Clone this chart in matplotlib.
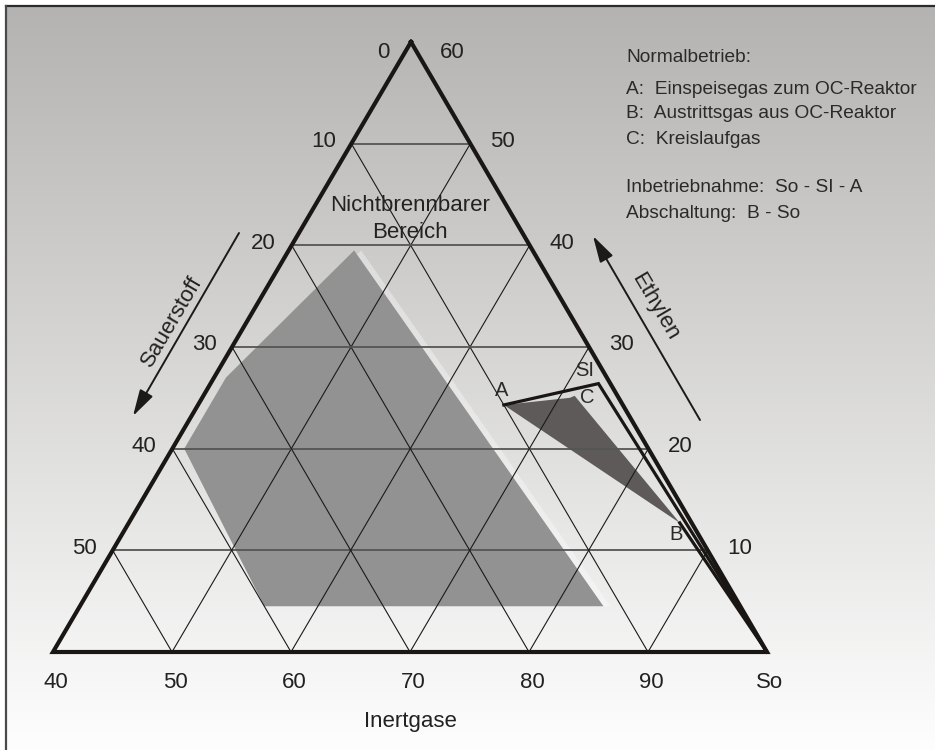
import numpy as np
import matplotlib.pyplot as plt
from matplotlib.patches import Polygon

plt.rcParams['font.family'] = ['Liberation Sans', 'DejaVu Sans']

# --- data (ternary: Sauerstoff O, Ethylen E, Inertgase I = 100 - O - E) ---
sauerstoff_ticks = [0, 10, 20, 30, 40, 50]
ethylen_ticks = [60, 50, 40, 30, 20, 10]
inert_ticks = [40, 50, 60, 70, 80, 90, 100]
inert_labels = ['40', '50', '60', '70', '80', '90', 'So']

# flammable region (Explosionsbereich)
flamm_O = [15, 32, 39, 40, 11.5]
flamm_E = [39.5, 27, 20, 4.5, 4.5]

# normal operation region A - C - B
betrieb_O = [10, 4.1, 3.6, 1.0]
betrieb_E = [24.3, 25.0, 25.2, 12.7]

# named points
pt_names = ['A', 'B', 'C', 'SI', 'So']
pt_O = [10, 1.0, 3.6, 1.0, 0]
pt_E = [24.3, 12.7, 25.2, 26.4, 0]
anfahren = ['So', 'SI', 'A']
abschalten = ['B', 'So']

legend_lines = ['Normalbetrieb:',
                'A:  Einspeisegas zum OC-Reaktor',
                'B:  Austrittsgas aus OC-Reaktor',
                'C:  Kreislaufgas',
                'Inbetriebnahme:  So - SI - A',
                'Abschaltung:  B - So']

# --- layout (pixel space of the 935x750 picture) ---
TOP = np.array([411.0, 42.0])
BL = np.array([53.0, 652.0])
BR = np.array([767.0, 652.0])


def tern(o, e):
    o = np.asarray(o, float)
    e = np.asarray(e, float)
    i = 100 - o - e
    a, b, c = o / 60, e / 60, (i - 40) / 60
    x = a * BL[0] + b * TOP[0] + c * BR[0]
    y = a * BL[1] + b * TOP[1] + c * BR[1]
    return x, y


fig = plt.figure(figsize=(9.35, 7.5), dpi=100)
ax = fig.add_axes([0, 0, 1, 1])
ax.set_xlim(0, 935)
ax.set_ylim(750, 0)
ax.axis('off')

# background gradient + frame
g = np.linspace(0, 1, 256)[:, None, None]
top_c = np.array([0.706, 0.702, 0.694])
bot_c = np.array([0.995, 0.995, 0.995])
img = top_c + (bot_c - top_c) * g
ax.imshow(img, extent=[6, 935, 750, 6], aspect='auto', zorder=0)
ax.plot([6, 935], [6, 6], color='#2b2b2b', lw=1.6, zorder=1)
ax.plot([6, 6], [6, 750], color='#4a4a4a', lw=1.6, zorder=1)

# shaded regions (with a faint light rim like the original)
fx, fy = tern(flamm_O, flamm_E)
ax.add_patch(Polygon(np.c_[fx + 7, fy], closed=True, fc='white', alpha=0.35,
                     ec='none', zorder=1.5))
ax.add_patch(Polygon(np.c_[fx, fy], closed=True, fc='#939292', ec='none', zorder=2))
bx, by = tern(betrieb_O, betrieb_E)
ax.add_patch(Polygon(np.c_[bx, by], closed=True, fc='#5d5a59', ec='none', zorder=2))

# grid
for v in range(10, 60, 10):
    # constant Ethylen (horizontal)
    x, y = tern([60 - v, 0], [v, v])
    ax.plot(x, y, color='#555555', lw=1.3, zorder=3)
    # constant Sauerstoff
    x, y = tern([v, v], [60 - v, 0])
    ax.plot(x, y, color='#1a1a1a', lw=0.8, zorder=3)
    # constant Inertgase
    i = 40 + v
    x, y = tern([100 - i, 0], [0, 100 - i])
    ax.plot(x, y, color='#1a1a1a', lw=0.8, zorder=3)

# triangle
tri = np.array([TOP, BL, BR, TOP])
ax.plot(tri[:, 0], tri[:, 1], color='#1a1614', lw=3.0, solid_joinstyle='miter', zorder=4)

# start-up / shut-down paths
pos = {n: tern(o, e) for n, o, e in zip(pt_names, pt_O, pt_E)}
for path in (anfahren, abschalten):
    px = [float(pos[n][0]) for n in path]
    py = [float(pos[n][1]) for n in path]
    ax.plot(px, py, color='#1a1614', lw=2.3, solid_joinstyle='miter', zorder=4)

lab_off = {'A': (-2, -14), 'B': (-4, 12), 'C': (13, 2), 'SI': (-14, -13)}
for n, (dx, dy) in lab_off.items():
    ax.text(pos[n][0] + dx, pos[n][1] + dy, n, fontsize=14.5, color='#2a2a2a',
            ha='center', va='center', zorder=5)

# tick labels
for o in sauerstoff_ticks:
    x, y = tern(o, 60 - o)
    dy = 13 if o == 0 else 0
    ax.text(x - 28, y + dy - 2, str(o), fontsize=16, color='#222222', ha='center', va='center')
for e in ethylen_ticks:
    x, y = tern(0, e)
    dx = 41 if e == 60 else 32
    dy = 13 if e == 60 else 0
    ax.text(x + dx, y + dy - 2, str(e), fontsize=16, color='#222222', ha='center', va='center')
for i, lab in zip(inert_ticks, inert_labels):
    x, y = tern(100 - i, 0)
    ax.text(x + 3, y + 31, lab, fontsize=16, color='#222222', ha='center', va='center')

# axis titles and arrows
ax.text(410, 722, 'Inertgase', fontsize=16, color='#222222', ha='center', va='center')
ax.text(410, 219, 'Nichtbrennbarer\nBereich', fontsize=16, color='#222222',
        ha='center', va='center', linespacing=1.4, zorder=5)
ax.text(172, 322, 'Sauerstoff', fontsize=16, color='#222222', ha='center', va='center',
        rotation=59.6, rotation_mode='anchor')
ax.text(655, 307, 'Ethylen', fontsize=16, color='#222222', ha='center', va='center',
        rotation=-59.6, rotation_mode='anchor')
arrow = dict(arrowstyle='-|>,head_length=0.9,head_width=0.25', color='#1a1a1a',
             lw=1.4, mutation_scale=18, shrinkA=0, shrinkB=0)
ax.annotate('', xy=(133, 416), xytext=(239, 233), arrowprops=arrow)
ax.annotate('', xy=(593, 236), xytext=(700, 420), arrowprops=arrow)

# legend text
line_y = [58, 90, 114, 139, 188, 213]
for line, ly in zip(legend_lines, line_y):
    ax.text(626, ly, line, fontsize=13.8, color='#2a2a2a', ha='left', va='center')

fig.savefig('out.png', dpi=100)
